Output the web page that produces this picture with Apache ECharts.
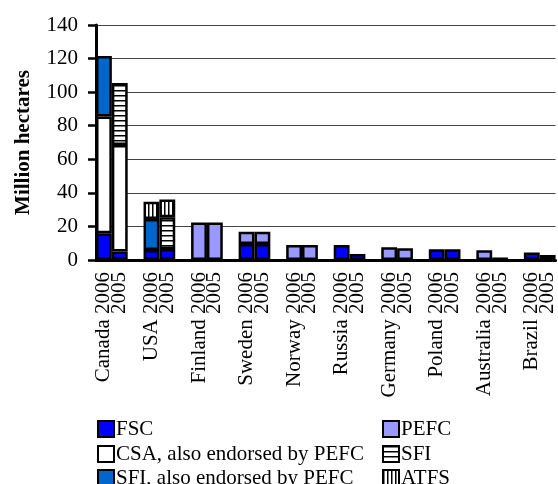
<!DOCTYPE html>
<html>
<head>
<meta charset="utf-8">
<script src="https://cdn.jsdelivr.net/npm/echarts@6/dist/echarts.min.js"></script>
<style>
  html, body { margin: 0; padding: 0; background: #fff; }
  #chart { width: 558px; height: 484px; }
</style>
</head>
<body>
<div id="chart"></div>
<script>
// data: one value per country/year pair, order = 2006, 2005
const countries = ["Canada", "USA", "Finland", "Sweden", "Norway", "Russia", "Germany", "Poland", "Australia", "Brazil"];
const years = ["2006", "2005"];
const fsc      = [16, 5,   6, 6.5,  "-", "-",   9.5, 9.5,  "-", "-",  9, 3.6,  "-", "-",  6.4, 6.4,  "-", "-",  4.5, 3];
const csa      = [69.5, 63.5, "-", "-", "-", "-", "-", "-", "-", "-", "-", "-", "-", "-", "-", "-", "-", "-", "-", "-"];
const sfiPefc  = [36, "-",  18.4, "-", "-", "-", "-", "-", "-", "-", "-", "-", "-", "-", "-", "-", "-", "-", "-", "-"];
const pefc     = ["-", "-", "-", "-",  22.3, 22.3,  7.4, 7.3,  9, 9,  "-", "-",  7.6, 7,  "-", "-",  5.8, 1.5,  "-", "-"];
const sfi      = ["-", 37,  "-", 19,  "-", "-", "-", "-", "-", "-", "-", "-", "-", "-", "-", "-", "-", "-", "-", "-"];
const atfs     = ["-", "-", 10.3, 10.5, "-", "-", "-", "-", "-", "-", "-", "-", "-", "-", "-", "-", "-", "-", "-", "-"];

const legendLeft = ["FSC", "CSA, also endorsed by PEFC", "SFI, also endorsed by PEFC"];
const legendRight = ["PEFC", "SFI", "ATFS"];

// categories: "Country 2006", "2005", then an empty gap slot
const categories = [];
countries.forEach(function (c, i) {
  categories.push(c + " " + years[0]);
  categories.push(years[1]);
  if (i < countries.length - 1) categories.push("");
});

function withGaps(arr) {
  const out = [];
  for (let i = 0; i < countries.length; i++) {
    out.push(arr[i * 2]);
    out.push(arr[i * 2 + 1]);
    if (i < countries.length - 1) out.push("-");
  }
  return out;
}

function hatch(vertical) {
  const cv = document.createElement("canvas");
  cv.width = vertical ? 4 : 8;
  cv.height = vertical ? 8 : 5;
  const ctx = cv.getContext("2d");
  ctx.fillStyle = "#fff";
  ctx.fillRect(0, 0, cv.width, cv.height);
  ctx.fillStyle = "#000";
  if (vertical) ctx.fillRect(0, 0, 1.5, cv.height);
  else ctx.fillRect(0, 0, cv.width, 1.5);
  return { image: cv, repeat: "repeat" };
}

const font = "Liberation Serif";

function bar(name, data, color) {
  return {
    name: name,
    type: "bar",
    stack: "total",
    data: withGaps(data),
    barCategoryGap: "0%",
    itemStyle: { color: color, borderColor: "#000", borderWidth: 2.5 },
  };
}

// one legend per entry so the two columns sit where they do in the original
const rowTops = [412, 437, 461];
const legends = [];
function addLegend(name, left, top) {
  legends.push({
    left: left,
    top: top,
    itemWidth: 16,
    itemHeight: 16,
    icon: "rect",
    data: [name],
    textStyle: { fontFamily: font, fontSize: 21, color: "#000", lineHeight: 24, padding: [0, 0, 0, -3] },
  });
}
legendLeft.forEach(function (n, i) { addLegend(n, 92, rowTops[i]); });
legendRight.forEach(function (n, i) { addLegend(n, 377, rowTops[i]); });

const chart = echarts.init(document.getElementById("chart"));
chart.setOption({
  backgroundColor: "#fff",
  animation: false,
  textStyle: { fontFamily: font, color: "#000" },
  grid: { left: 96, top: 25, width: 468, height: 235 },
  legend: legends,
  xAxis: {
    type: "category",
    data: categories,
    axisLine: { lineStyle: { color: "#000", width: 3 } },
    axisTick: { length: 8, lineStyle: { color: "#000", width: 2.5 } },
    axisLabel: { interval: 0, rotate: 90, margin: 12, fontFamily: font, fontSize: 21, color: "#000" },
  },
  yAxis: {
    type: "value",
    min: 0,
    max: 140,
    interval: 20,
    name: "Million hectares",
    nameLocation: "middle",
    nameGap: 62,
    nameTextStyle: { fontFamily: font, fontSize: 21, fontWeight: "bold", color: "#000" },
    axisLine: { show: true, lineStyle: { color: "#000", width: 3 } },
    axisTick: { show: true, length: 8, lineStyle: { color: "#000", width: 2.5 } },
    axisLabel: { margin: 18, fontFamily: font, fontSize: 21, color: "#000" },
    splitLine: { lineStyle: { color: "#444", width: 1 } },
  },
  series: [
    bar("FSC", fsc, "#0000ff"),
    bar("PEFC", pefc, "#9999ff"),
    bar("CSA, also endorsed by PEFC", csa, "#ffffff"),
    bar("SFI, also endorsed by PEFC", sfiPefc, "#0066cc"),
    bar("SFI", sfi, hatch(false)),
    bar("ATFS", atfs, hatch(true)),
  ],
});
</script>
</body>
</html>
